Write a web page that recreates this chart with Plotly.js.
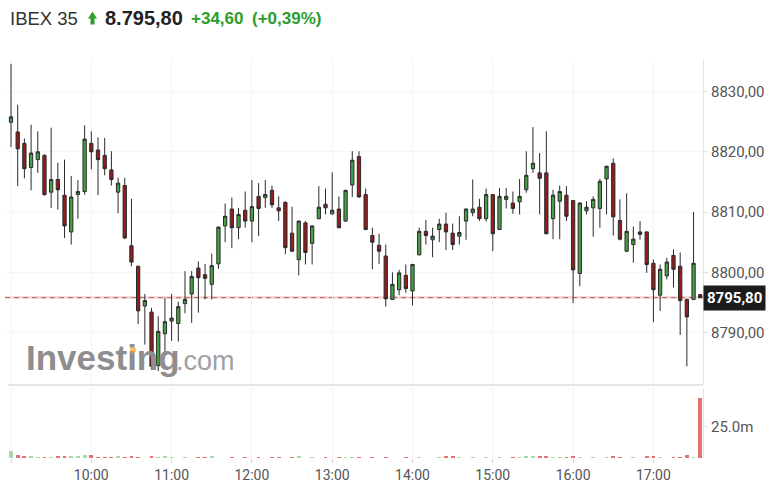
<!DOCTYPE html>
<html>
<head>
<meta charset="utf-8">
<script src="https://cdn.plot.ly/plotly-3.0.1.min.js"></script>
<style>html,body{margin:0;padding:0;background:#fff;}#chart{width:783px;height:496px;}</style>
</head>
<body>
<div id="chart"></div>
<script>
// ---- DATA (5-minute candles, IBEX 35) ----
const times = ['09:00','09:05','09:10','09:15','09:20','09:25','09:30','09:35','09:40','09:45','09:50','09:55',
'10:00','10:05','10:10','10:15','10:20','10:25','10:30','10:35','10:40','10:45','10:50','10:55',
'11:00','11:05','11:10','11:15','11:20','11:25','11:30','11:35','11:40','11:45','11:50','11:55',
'12:00','12:05','12:10','12:15','12:20','12:25','12:30','12:35','12:40','12:45','12:50','12:55',
'13:00','13:05','13:10','13:15','13:20','13:25','13:30','13:35','13:40','13:45','13:50','13:55',
'14:00','14:05','14:10','14:15','14:20','14:25','14:30','14:35','14:40','14:45','14:50','14:55',
'15:00','15:05','15:10','15:15','15:20','15:25','15:30','15:35','15:40','15:45','15:50','15:55',
'16:00','16:05','16:10','16:15','16:20','16:25','16:30','16:35','16:40','16:45','16:50','16:55',
'17:00','17:05','17:10','17:15','17:20','17:25','17:30','17:35'];

const openP = [8824.9,8823.3,8821.4,8817.4,8818.7,8819.4,8813.3,8815.4,8812.8,8806.7,8812.9,8813.4,
8821.4,8820.3,8819.4,8817.0,8813.3,8814.4,8804.4,8801.0,8794.4,8793.4,8784.5,8789.8,
8791.9,8791.5,8794.8,8796.4,8800.7,8799.6,8798.0,8801.4,8807.7,8810.5,8807.4,8810.3,
8808.5,8812.6,8812.4,8813.6,8810.7,8811.6,8806.5,8802.1,8808.2,8804.8,8808.9,8811.3,
8809.7,8810.5,8808.5,8814.5,8819.2,8812.9,8806.1,8804.5,8802.7,8795.5,8797.1,8799.5,
8796.9,8802.9,8806.8,8805.4,8807.1,8808.0,8806.5,8806.0,8808.5,8809.9,8810.8,8808.9,
8812.9,8807.1,8812.1,8811.5,8811.7,8813.7,8817.2,8816.5,8816.5,8808.9,8811.8,8812.8,
8811.9,8799.8,8810.2,8810.7,8810.6,8815.5,8818.1,8808.6,8803.5,8804.6,8806.7,8806.7,
8801.5,8796.2,8799.4,8802.8,8801.0,8795.5,8795.5,8796.3];

const highP = [8834.6,8827.8,8822.2,8824.5,8823.4,8819.6,8824.0,8818.2,8818.7,8816.0,8815.3,8824.4,
8823.4,8822.4,8822.3,8820.1,8815.7,8815.7,8812.2,8801.1,8796.4,8794.1,8792.7,8795.8,
8796.4,8795.1,8800.2,8800.2,8801.8,8801.4,8803.1,8807.6,8811.4,8812.4,8810.7,8813.4,
8815.3,8814.8,8815.3,8814.4,8812.6,8811.8,8810.9,8808.6,8808.5,8807.8,8814.3,8813.9,
8816.6,8812.6,8813.7,8820.1,8820.1,8813.9,8807.4,8806.4,8804.6,8800.0,8800.4,8801.3,
8801.4,8807.4,8808.7,8807.4,8808.9,8809.9,8808.1,8809.3,8810.6,8815.4,8812.2,8813.9,
8813.0,8814.0,8814.0,8813.4,8815.5,8820.1,8824.1,8819.8,8823.4,8813.7,8814.4,8814.3,
8812.0,8811.6,8811.8,8812.6,8815.5,8817.7,8818.9,8812.1,8813.1,8807.6,8808.5,8806.8,
8802.1,8801.3,8802.4,8803.8,8803.3,8795.6,8810.0,8796.4];

const lowP = [8820.8,8814.3,8815.6,8813.6,8816.5,8812.7,8810.7,8810.4,8805.7,8804.6,8808.9,8812.9,
8817.1,8812.8,8816.1,8814.4,8809.8,8805.5,8801.0,8791.4,8788.0,8783.8,8783.6,8786.6,
8788.6,8788.5,8793.2,8791.6,8793.3,8795.5,8795.5,8800.6,8805.0,8804.0,8805.5,8807.4,
8805.0,8806.0,8810.7,8810.7,8808.5,8803.0,8803.4,8799.5,8801.3,8801.3,8808.8,8809.6,
8809.6,8807.3,8808.4,8812.5,8812.4,8807.0,8800.5,8801.4,8794.3,8795.4,8796.2,8796.6,
8794.5,8802.8,8804.6,8802.5,8805.0,8803.7,8803.7,8804.6,8805.4,8809.3,8808.5,8808.4,
8803.5,8807.0,8810.6,8809.7,8809.6,8813.2,8816.5,8809.6,8806.3,8805.5,8805.5,8808.5,
8794.9,8797.7,8809.6,8805.9,8807.4,8809.6,8806.1,8805.3,8803.4,8801.6,8805.4,8799.9,
8791.7,8793.6,8798.8,8797.5,8789.6,8784.4,8795.4,8795.8];

const closeP = [8825.8,8820.5,8817.2,8819.8,8820.0,8812.9,8815.4,8813.7,8807.7,8812.5,8813.4,8822.1,
8820.0,8818.7,8817.2,8815.4,8814.8,8805.7,8801.7,8793.6,8795.3,8784.4,8790.2,8791.8,
8792.4,8794.3,8795.5,8799.3,8799.1,8799.0,8801.1,8807.5,8809.3,8807.4,8809.6,8808.5,
8810.9,8810.6,8812.9,8811.2,8810.2,8804.1,8803.5,8808.5,8803.3,8807.7,8810.8,8810.7,
8810.3,8807.4,8813.6,8818.6,8812.5,8807.1,8805.0,8803.5,8795.6,8798.0,8799.9,8797.3,
8801.3,8806.8,8806.1,8806.0,8808.0,8806.7,8804.6,8806.6,8810.5,8810.5,8808.9,8812.9,
8806.4,8812.6,8812.6,8810.6,8812.6,8816.1,8818.1,8815.6,8806.4,8812.8,8813.4,8809.3,
8800.4,8811.5,8810.8,8812.1,8815.1,8817.6,8809.2,8805.5,8806.8,8805.5,8806.3,8801.3,
8797.1,8800.5,8801.7,8800.5,8795.3,8792.6,8801.5,8795.8];

// volume in millions
const volume = [5.6,2.5,1.4,1.4,0.6,0.5,1.1,1.7,1.7,1.4,1.4,2.2,
2.5,0.6,0.6,0.6,1.4,0.6,1.4,0.6,0.4,1.7,0.5,1.4,
0.5,0.4,0.5,0.4,0.5,0.5,1.4,0.4,0.4,0.5,0.4,0.5,
0.4,0.5,0.4,0.5,0.5,0.4,0.5,1.4,0.4,0.5,0.4,0.5,
0.4,0.5,1.1,1.1,0.5,0.4,0.5,0.4,0.5,0.4,0.4,0.5,
0.4,0.5,0.4,0.4,0.5,1.4,1.4,0.5,0.4,0.5,0.4,0.5,
0.4,0.5,0.4,0.5,0.6,1.4,2.0,1.4,1.4,1.1,1.1,0.5,
1.4,0.5,0.4,0.5,0.4,0.5,1.4,0.5,0.4,0.5,0.4,1.4,
1.4,0.5,0.4,0.5,0.6,2.2,0.6,47.7];

const lastPrice = 8795.80;
const lastLabel = '8795,80';
const headerName = 'IBEX 35';
const headerPrice = '8.795,80';
const headerChange = '+34,60';
const headerPct = '(+0,39%)';
const priceTicks = [8790, 8800, 8810, 8820, 8830];
const priceTickText = ['8790,00','8800,00','8810,00','8820,00','8830,00'];
const volTicks = [25];
const volTickText = ['25.0m'];
const hourTicks = ['09:00','10:00','11:00','12:00','13:00','14:00','15:00','16:00','17:00'];
const hourTickText = ['','10:00','11:00','12:00','13:00','14:00','15:00','16:00','17:00'];

// ---- LAYOUT HELPERS (pixel geometry) ----
const W = 783, H = 496, ML = 5, MR = 80, MT = 60, MB = 38;
const PW = W - ML - MR, PH = H - MT - MB;
const px = x => (x - ML) / PW;
const py = y => (H - MB - y) / PH;
const DAY = '2024-01-01 ';
const t0 = Date.UTC(2024, 0, 1, 9, 0, 0);
const PX_PER_MIN = 80.3 / 60, X900 = 11;
const msStr = ms => new Date(ms).toISOString().replace('T', ' ').slice(0, 19);
const pxToTime = x => msStr(t0 + (x - X900) / PX_PER_MIN * 60000);
const Y8800 = 272.3, PX_PER_PT = 6.025;
const pxToPrice = y => 8800 - (y - Y8800) / PX_PER_PT;

const xs = times.map(t => DAY + t);
const volColors = closeP.map((c, i) => c >= openP[i] ? '#a9d8ab' : '#e57373');

const traces = [
  {type: 'scatter', mode: 'text', x: [pxToTime(26)], y: [pxToPrice(361)], text: ['<b>Investing</b>'],
   textposition: 'middle right', textfont: {family: 'Liberation Sans, Arial, sans-serif', size: 35, color: '#8e8e8e'},
   hoverinfo: 'skip', showlegend: false, cliponaxis: false, xaxis: 'x', yaxis: 'y'},
  {type: 'scatter', mode: 'text', x: [pxToTime(176)], y: [pxToPrice(363.5)], text: ['.com'],
   textposition: 'middle right', textfont: {family: 'Liberation Sans, Arial, sans-serif', size: 27, color: '#a0a0a0'},
   hoverinfo: 'skip', showlegend: false, cliponaxis: false, xaxis: 'x', yaxis: 'y'},
  {type: 'scatter', mode: 'markers', x: [pxToTime(133)], y: [pxToPrice(350)],
   marker: {size: 6, color: '#f5a623', opacity: 0.75}, hoverinfo: 'skip', showlegend: false, xaxis: 'x', yaxis: 'y'},
  {type: 'candlestick', x: xs, open: openP, high: highP, low: lowP, close: closeP,
   increasing: {line: {color: '#2a2a2a', width: 1}, fillcolor: '#45a045'},
   decreasing: {line: {color: '#2a2a2a', width: 1}, fillcolor: '#931c1c'},
   whiskerwidth: 0, showlegend: false, xaxis: 'x', yaxis: 'y'},
  {type: 'bar', x: xs, y: volume, marker: {color: volColors, line: {width: 0}},
   width: 170000, showlegend: false, xaxis: 'x', yaxis: 'y2'}
];

const arrowPath = [
  ['M', 88, 18.5], ['L', 92.5, 11.5], ['L', 97, 18.5], ['L', 94.5, 18.5], ['L', 94.5, 24.5],
  ['L', 90.5, 24.5], ['L', 90.5, 18.5]
].map(p => p[0] + px(p[1]).toFixed(5) + ',' + py(p[2]).toFixed(5)).join(' ') + ' Z';

const hdrFont = 'Liberation Sans, Arial, sans-serif';
const axFont = 'Roboto, Arial, sans-serif';

const layout = {
  width: W, height: H,
  margin: {l: ML, r: MR, t: MT, b: MB, pad: 0},
  paper_bgcolor: '#ffffff', plot_bgcolor: '#ffffff',
  showlegend: false,
  bargap: 0,
  xaxis: {
    type: 'date', anchor: 'y2',
    range: [pxToTime(ML), pxToTime(W - MR)],
    tickvals: hourTicks.map(t => DAY + t), ticktext: hourTickText,
    showgrid: true, gridcolor: '#f3f3f3', gridwidth: 1,
    ticks: 'outside', ticklen: 4, tickcolor: '#d5d5d5',
    tickfont: {family: axFont, size: 14, color: '#555'},
    showline: false, zeroline: false,
    rangeslider: {visible: false}, fixedrange: true
  },
  yaxis: {
    domain: [py(385), 1], side: 'right', anchor: 'x',
    range: [pxToPrice(385), pxToPrice(MT)],
    tickvals: priceTicks, ticktext: priceTickText,
    showgrid: true, gridcolor: '#f6f6f6',
    showline: true, linecolor: '#e4e4e4', linewidth: 1,
    ticks: 'outside', ticklen: 4, tickcolor: '#e4e4e4',
    tickfont: {family: axFont, size: 15, color: '#555'},
    zeroline: false, fixedrange: true
  },
  yaxis2: {
    domain: [0, py(388)], side: 'right', anchor: 'x',
    range: [0, 55.9],
    tickvals: volTicks, ticktext: volTickText,
    showgrid: false, showline: true, linecolor: '#e4e4e4', linewidth: 1,
    ticks: 'outside', ticklen: 4, tickcolor: '#e4e4e4',
    tickfont: {family: axFont, size: 15, color: '#555'},
    zeroline: false, fixedrange: true
  },
  shapes: [
    {type: 'line', xref: 'paper', yref: 'paper', x0: px(8), x1: 1, y0: py(385), y1: py(385),
     line: {color: '#cdcdcd', width: 1}},
    {type: 'line', xref: 'paper', yref: 'y', x0: 0, x1: 1, y0: lastPrice, y1: lastPrice, layer: 'below',
     line: {color: 'rgba(235,175,175,0.45)', width: 3}},
    {type: 'line', xref: 'paper', yref: 'y', x0: 0, x1: 1, y0: lastPrice, y1: lastPrice, layer: 'below',
     line: {color: '#b86868', width: 1, dash: '5px,4px'}},
    {type: 'path', xref: 'paper', yref: 'paper', path: arrowPath, fillcolor: '#2e9e2e', line: {width: 0}}
  ],
  annotations: [
    {xref: 'paper', yref: 'paper', x: px(8), y: py(18), xanchor: 'left', yanchor: 'middle', showarrow: false,
     text: headerName, font: {family: hdrFont, size: 18.5, color: '#333'}},
    {xref: 'paper', yref: 'paper', x: px(103), y: py(18), xanchor: 'left', yanchor: 'middle', showarrow: false,
     text: '<b>' + headerPrice + '</b>', font: {family: hdrFont, size: 20, color: '#222'}},
    {xref: 'paper', yref: 'paper', x: px(189), y: py(18), xanchor: 'left', yanchor: 'middle', showarrow: false,
     text: '<b>' + headerChange + '</b>', font: {family: hdrFont, size: 17, color: '#2a9d2a'}},
    {xref: 'paper', yref: 'paper', x: px(250), y: py(18), xanchor: 'left', yanchor: 'middle', showarrow: false,
     text: '<b>' + headerPct + '</b>', font: {family: hdrFont, size: 17, color: '#2a9d2a'}},
    {xref: 'paper', yref: 'y', x: 1, y: lastPrice, xanchor: 'left', yanchor: 'middle', showarrow: false,
     text: '<b>' + lastLabel + '</b>', bgcolor: '#1c1c1c', borderpad: 3,
     font: {family: axFont, size: 15, color: '#ffffff'}}
  ]
};

Plotly.newPlot('chart', traces, layout, {staticPlot: true, displayModeBar: false});
</script>
</body>
</html>
